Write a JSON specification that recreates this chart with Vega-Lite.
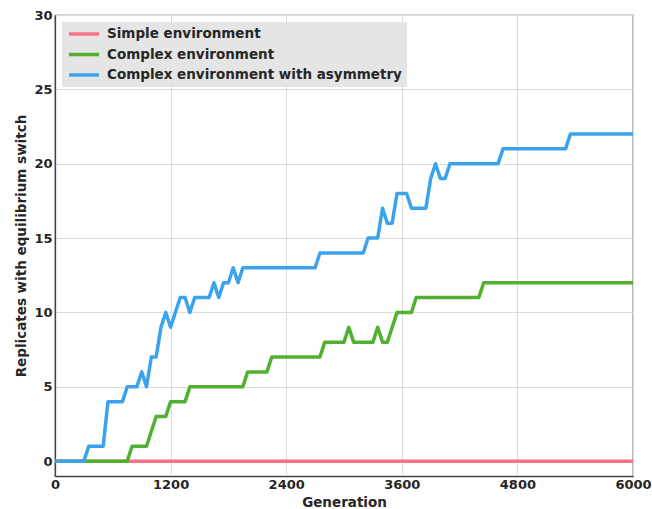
{
  "$schema": "https://vega.github.io/schema/vega-lite/v6.json",
  "autosize": {"type": "none"},
  "padding": {"left": 55, "top": 15, "right": 19, "bottom": 33},
  "width": 578,
  "height": 461,
  "config": {
    "font": "DejaVu Sans",
    "view": {"stroke": "#444444", "strokeWidth": 1.25},
    "axis": {
      "labelFont": "DejaVu Sans",
      "labelFontWeight": "bold",
      "labelFontSize": 13,
      "labelColor": "#262626",
      "titleFont": "DejaVu Sans",
      "titleFontWeight": "bold",
      "titleFontSize": 13.5,
      "titleColor": "#262626",
      "gridColor": "#dcdcdc",
      "gridWidth": 1,
      "domainColor": "#444444",
      "domainWidth": 1.25,
      "ticks": false,
      "labelFlush": false,
      "format": "d"
    },
    "legend": {
      "labelFont": "DejaVu Sans",
      "labelFontWeight": "bold",
      "labelFontSize": 13.5,
      "labelColor": "#262626",
      "labelLimit": 0
    }
  },
  "data": {
    "values": [
      {"series": "Simple environment", "gen": 0, "value": 0},
      {"series": "Simple environment", "gen": 6000, "value": 0},

      {"series": "Complex environment", "gen": 0, "value": 0},
      {"series": "Complex environment", "gen": 750, "value": 0},
      {"series": "Complex environment", "gen": 800, "value": 1},
      {"series": "Complex environment", "gen": 950, "value": 1},
      {"series": "Complex environment", "gen": 1050, "value": 3},
      {"series": "Complex environment", "gen": 1150, "value": 3},
      {"series": "Complex environment", "gen": 1200, "value": 4},
      {"series": "Complex environment", "gen": 1350, "value": 4},
      {"series": "Complex environment", "gen": 1400, "value": 5},
      {"series": "Complex environment", "gen": 1950, "value": 5},
      {"series": "Complex environment", "gen": 2000, "value": 6},
      {"series": "Complex environment", "gen": 2200, "value": 6},
      {"series": "Complex environment", "gen": 2250, "value": 7},
      {"series": "Complex environment", "gen": 2750, "value": 7},
      {"series": "Complex environment", "gen": 2800, "value": 8},
      {"series": "Complex environment", "gen": 3000, "value": 8},
      {"series": "Complex environment", "gen": 3050, "value": 9},
      {"series": "Complex environment", "gen": 3100, "value": 8},
      {"series": "Complex environment", "gen": 3300, "value": 8},
      {"series": "Complex environment", "gen": 3350, "value": 9},
      {"series": "Complex environment", "gen": 3400, "value": 8},
      {"series": "Complex environment", "gen": 3450, "value": 8},
      {"series": "Complex environment", "gen": 3550, "value": 10},
      {"series": "Complex environment", "gen": 3700, "value": 10},
      {"series": "Complex environment", "gen": 3750, "value": 11},
      {"series": "Complex environment", "gen": 4400, "value": 11},
      {"series": "Complex environment", "gen": 4450, "value": 12},
      {"series": "Complex environment", "gen": 6000, "value": 12},

      {"series": "Complex environment with asymmetry", "gen": 0, "value": 0},
      {"series": "Complex environment with asymmetry", "gen": 300, "value": 0},
      {"series": "Complex environment with asymmetry", "gen": 350, "value": 1},
      {"series": "Complex environment with asymmetry", "gen": 500, "value": 1},
      {"series": "Complex environment with asymmetry", "gen": 550, "value": 4},
      {"series": "Complex environment with asymmetry", "gen": 700, "value": 4},
      {"series": "Complex environment with asymmetry", "gen": 750, "value": 5},
      {"series": "Complex environment with asymmetry", "gen": 850, "value": 5},
      {"series": "Complex environment with asymmetry", "gen": 900, "value": 6},
      {"series": "Complex environment with asymmetry", "gen": 950, "value": 5},
      {"series": "Complex environment with asymmetry", "gen": 1000, "value": 7},
      {"series": "Complex environment with asymmetry", "gen": 1050, "value": 7},
      {"series": "Complex environment with asymmetry", "gen": 1100, "value": 9},
      {"series": "Complex environment with asymmetry", "gen": 1150, "value": 10},
      {"series": "Complex environment with asymmetry", "gen": 1200, "value": 9},
      {"series": "Complex environment with asymmetry", "gen": 1300, "value": 11},
      {"series": "Complex environment with asymmetry", "gen": 1350, "value": 11},
      {"series": "Complex environment with asymmetry", "gen": 1400, "value": 10},
      {"series": "Complex environment with asymmetry", "gen": 1450, "value": 11},
      {"series": "Complex environment with asymmetry", "gen": 1600, "value": 11},
      {"series": "Complex environment with asymmetry", "gen": 1650, "value": 12},
      {"series": "Complex environment with asymmetry", "gen": 1700, "value": 11},
      {"series": "Complex environment with asymmetry", "gen": 1750, "value": 12},
      {"series": "Complex environment with asymmetry", "gen": 1800, "value": 12},
      {"series": "Complex environment with asymmetry", "gen": 1850, "value": 13},
      {"series": "Complex environment with asymmetry", "gen": 1900, "value": 12},
      {"series": "Complex environment with asymmetry", "gen": 1950, "value": 13},
      {"series": "Complex environment with asymmetry", "gen": 2700, "value": 13},
      {"series": "Complex environment with asymmetry", "gen": 2750, "value": 14},
      {"series": "Complex environment with asymmetry", "gen": 3200, "value": 14},
      {"series": "Complex environment with asymmetry", "gen": 3250, "value": 15},
      {"series": "Complex environment with asymmetry", "gen": 3350, "value": 15},
      {"series": "Complex environment with asymmetry", "gen": 3400, "value": 17},
      {"series": "Complex environment with asymmetry", "gen": 3450, "value": 16},
      {"series": "Complex environment with asymmetry", "gen": 3500, "value": 16},
      {"series": "Complex environment with asymmetry", "gen": 3550, "value": 18},
      {"series": "Complex environment with asymmetry", "gen": 3650, "value": 18},
      {"series": "Complex environment with asymmetry", "gen": 3700, "value": 17},
      {"series": "Complex environment with asymmetry", "gen": 3850, "value": 17},
      {"series": "Complex environment with asymmetry", "gen": 3900, "value": 19},
      {"series": "Complex environment with asymmetry", "gen": 3950, "value": 20},
      {"series": "Complex environment with asymmetry", "gen": 4000, "value": 19},
      {"series": "Complex environment with asymmetry", "gen": 4050, "value": 19},
      {"series": "Complex environment with asymmetry", "gen": 4100, "value": 20},
      {"series": "Complex environment with asymmetry", "gen": 4600, "value": 20},
      {"series": "Complex environment with asymmetry", "gen": 4650, "value": 21},
      {"series": "Complex environment with asymmetry", "gen": 5300, "value": 21},
      {"series": "Complex environment with asymmetry", "gen": 5350, "value": 22},
      {"series": "Complex environment with asymmetry", "gen": 6000, "value": 22}
    ]
  },
  "mark": {"type": "line", "strokeWidth": 3.5, "strokeJoin": "round", "clip": true},
  "encoding": {
    "x": {
      "field": "gen",
      "type": "quantitative",
      "title": "Generation",
      "scale": {"domain": [0, 6000], "nice": false, "zero": false},
      "axis": {"values": [0, 1200, 2400, 3600, 4800, 6000], "labelPadding": 2, "titlePadding": 4}
    },
    "y": {
      "field": "value",
      "type": "quantitative",
      "title": "Replicates with equilibrium switch",
      "scale": {"domain": [-1, 30], "nice": false, "zero": false},
      "axis": {"values": [0, 5, 10, 15, 20, 25, 30], "labelPadding": 3, "titlePadding": 5}
    },
    "color": {
      "field": "series",
      "type": "nominal",
      "scale": {
        "domain": ["Simple environment", "Complex environment", "Complex environment with asymmetry"],
        "range": ["#f77189", "#50b131", "#3ba3ec"]
      },
      "legend": {
        "title": null,
        "orient": "top-left",
        "offset": 7,
        "fillColor": "#e5e5e5",
        "padding": 5,
        "symbolType": "M-1,0H5",
        "symbolSize": 100,
        "symbolStrokeWidth": 3.5,
        "rowPadding": 6.5,
        "labelOffset": 26
      }
    }
  }
}
